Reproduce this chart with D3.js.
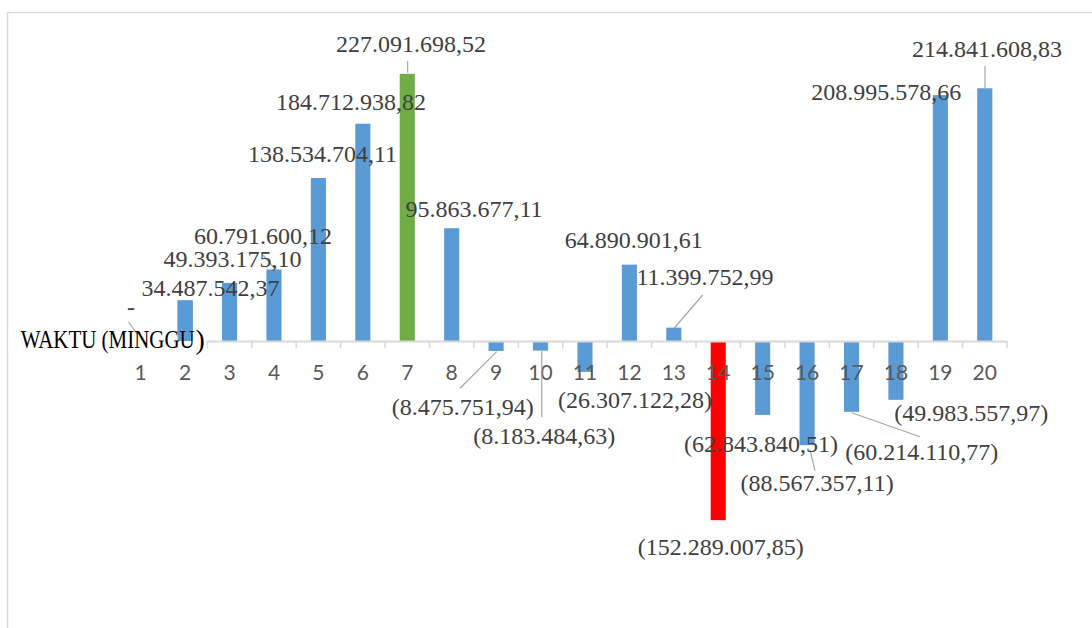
<!DOCTYPE html>
<html>
<head>
<meta charset="utf-8">
<script src="https://cdn.jsdelivr.net/npm/d3@7"></script>
<style>
  html, body { margin: 0; padding: 0; background: #fff; }
  svg { display: block; }
</style>
</head>
<body>
<script>
// Weekly cash-flow values (Rupiah) per week
const weeks = ["1","2","3","4","5","6","7","8","9","10","11","12","13","14","15","16","17","18","19","20"];
const values = [0, 34487542.37, 49393175.10, 60791600.12, 138534704.11, 184712938.82, 227091698.52,
  95863677.11, -8475751.94, -8183484.63, -26307122.28, 64890901.61, 11399752.99, -152289007.85,
  -62843840.51, -88567357.11, -60214110.77, -49983557.97, 208995578.66, 214841608.83];
const axisTitle = "WAKTU (MINGGU";

// Label placement: offset of label centre from the bar end, px
const labelOffsets = [[-9.7,-34],[25.4,-12.9],[3,-24.4],[-11,-33.5],[4.1,-24.5],[-11.8,-22.2],[3.7,-29.8],
  [22.3,-19.7],[-33.3,56.5],[3.7,85.4],[50.1,28.1],[4.3,-24.7],[31.2,-50.9],[2.5,26.8],[-1.6,29.1],
  [10,37.8],[70.2,40.2],[75.4,13.2],[-54,-3.5],[2.2,-39.3]];
// Leader lines: [x1, y1, x2, y2] relative to the bar end, px
const leaders = {0:[-3.7,-7,-12.2,-19], 3:[1,-0.5,-11,-14.5], 6:[0.4,-1,0.4,-12.8], 8:[0.6,0.7,-36.1,37.3],
  9:[1.2,0,1.2,66.7], 12:[0.5,0.4,28.9,-32.6], 15:[2.9,4.8,7.9,25.5], 16:[0.2,0.9,68.5,24.9], 19:[0.2,0,0.2,-22.3]};

const W = 1092, H = 628;
const svg = d3.select("body").append("svg").attr("width", W).attr("height", H);
svg.append("rect").attr("width", W).attr("height", H).attr("fill", "#fff");

// chart frame
svg.append("rect").attr("x", 7.5).attr("y", 12.5).attr("width", 1200).attr("height", 800)
  .attr("fill", "none").attr("stroke", "#d9d9d9").attr("stroke-width", 1.5);

const x = d3.scaleBand().domain(weeks).range([118.5, 1007]).paddingInner(0.66).paddingOuter(0.33);
const xEdge = d3.scaleLinear().domain([0, weeks.length]).range([118.5, 1007]);
const y = d3.scaleLinear().domain([-200e6, 250e6]).range([576.3, 46.9]);
const y0 = y(0);

const loc = d3.formatLocale({decimal: ",", thousands: ".", grouping: [3], currency: ["", ""]});
const fmt = loc.format(",.2f");
const labelText = v => v === 0 ? "-" : (v < 0 ? "(" + fmt(-v) + ")" : fmt(v));

const maxV = d3.max(values), minV = d3.min(values);
const colorOf = v => v === maxV ? "#70ad47" : (v === minV ? "#ff0000" : "#5b9bd5");

const data = weeks.map((w, i) => ({w, v: values[i], i}));

// bars
svg.append("g").selectAll("rect").data(data).enter().append("rect")
  .attr("x", d => x(d.w))
  .attr("width", x.bandwidth())
  .attr("y", d => Math.min(y(d.v), y0))
  .attr("height", d => Math.abs(y(d.v) - y0))
  .attr("fill", d => colorOf(d.v));

// category axis, drawn over the bars
const axis = svg.append("g").attr("transform", `translate(0,${y0})`)
  .call(d3.axisBottom(x).tickSize(0).tickSizeOuter(0).tickPadding(24));
axis.select(".domain").attr("stroke", "#d9d9d9").attr("stroke-width", 2);
axis.selectAll("text").attr("fill", "#595959").attr("font-family", "Lato, 'Open Sans', sans-serif").attr("font-size", 21);
axis.selectAll(".edge").data(d3.range(weeks.length + 1)).enter().append("line")
  .attr("class", "edge").attr("x1", d => xEdge(d)).attr("x2", d => xEdge(d))
  .attr("y1", 0).attr("y2", 7).attr("stroke", "#d9d9d9").attr("stroke-width", 1.5);

// axis title background (hides the axis start behind the title)
svg.append("rect").attr("x", 8.5).attr("y", 332).attr("width", 198).attr("height", 20).attr("fill", "#fff");
// week 2 bar shows above the title background
const w2 = data[1];
svg.append("rect").attr("x", x(w2.w)).attr("width", x.bandwidth())
  .attr("y", y(w2.v)).attr("height", y0 - y(w2.v)).attr("fill", colorOf(w2.v));

const barEnd = d => [x(d.w) + x.bandwidth() / 2, y(d.v)];

// leader lines
svg.append("g").selectAll("line").data(data.filter(d => leaders[d.i])).enter().append("line")
  .attr("x1", d => barEnd(d)[0] + leaders[d.i][0])
  .attr("y1", d => barEnd(d)[1] + leaders[d.i][1])
  .attr("x2", d => barEnd(d)[0] + leaders[d.i][2])
  .attr("y2", d => barEnd(d)[1] + leaders[d.i][3])
  .attr("stroke", "#a6a6a6").attr("stroke-width", 1.2);

// value labels
svg.append("g").selectAll("text").data(data).enter().append("text")
  .attr("x", d => barEnd(d)[0] + labelOffsets[d.i][0])
  .attr("y", d => barEnd(d)[1] + labelOffsets[d.i][1] + 8)
  .attr("text-anchor", "middle")
  .attr("font-family", "'Liberation Serif', 'Times New Roman', serif")
  .attr("font-size", 24)
  .attr("fill", "#404040")
  .text(d => labelText(d.v));

// axis title
svg.append("text").attr("x", 20.7).attr("y", 348.3)
  .attr("font-family", "'Liberation Serif', 'Times New Roman', serif")
  .attr("font-size", 25).attr("fill", "#000")
  .attr("textLength", 174).attr("lengthAdjust", "spacingAndGlyphs")
  .text(axisTitle);
svg.append("text").attr("x", 195.5).attr("y", 349)
  .attr("font-family", "'Liberation Serif', 'Times New Roman', serif")
  .attr("font-size", 28).attr("fill", "#000")
  .text(")");
</script>
</body>
</html>
